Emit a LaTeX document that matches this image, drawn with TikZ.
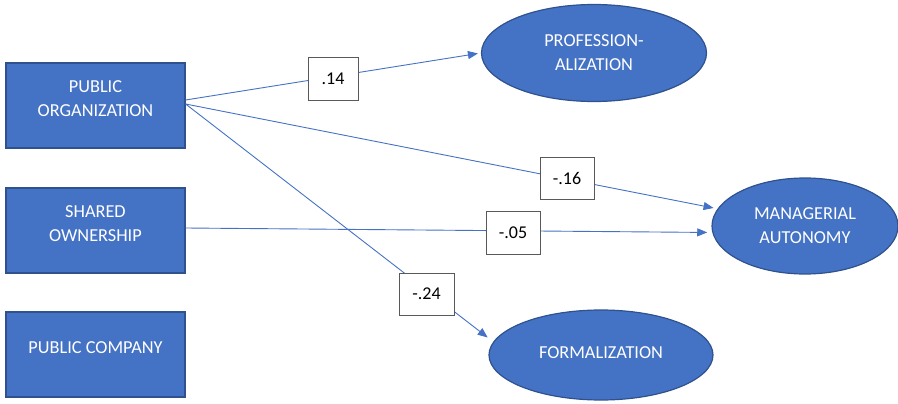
\documentclass[tikz,border=0pt]{standalone}
\usepackage{fontspec}
\setmainfont{Carlito}
\usetikzlibrary{shapes.geometric,arrows.meta}
\definecolor{boxblue}{RGB}{68,114,196}
\definecolor{boxedge}{RGB}{47,82,143}
\definecolor{lblgray}{RGB}{89,89,89}
\newcommand\liftedtext[1]{\raisebox{6pt}[\height][\depth]{\begin{tabular}{@{}c@{}}#1\end{tabular}}}
\begin{document}
\begin{tikzpicture}[x=1pt,y=-1pt,
  varbox/.style={draw=boxedge,line width=1.2pt,fill=boxblue,text=white,
    minimum width=179pt,minimum height=85pt,inner sep=0pt,align=center,
    font=\fontsize{18.3}{24}\selectfont},
  latent/.style={ellipse,draw=boxedge,line width=1.2pt,fill=boxblue,text=white,
    inner sep=0pt,align=center,font=\fontsize{18.3}{24}\selectfont},
  coef/.style={draw=lblgray,line width=0.8pt,fill=white,text=black,inner sep=0pt,
    font=\fontsize{18}{22}\selectfont},
  link/.style={draw=boxblue,line width=0.9pt,-{Triangle[length=10pt,width=8pt]}}]
\useasboundingbox (0,0) rectangle (898,404);

\node[varbox] (pub) at (95.5,105.5) {\liftedtext{PUBLIC\\ORGANIZATION}};
\node[varbox] (sh) at (95.5,230.5) {\liftedtext{SHARED\\OWNERSHIP}};
\node[varbox] (pc) at (95.5,354.5) {\liftedtext{PUBLIC COMPANY}};

\node[latent,minimum width=225pt,minimum height=97pt] (prof) at (594,53) {PROFESSION-\\ALIZATION};
\node[latent,minimum width=186pt,minimum height=96pt] (man) at (805,226) {MANAGERIAL\\AUTONOMY};
\node[latent,minimum width=224pt,minimum height=90pt] (form) at (601,355) {\raisebox{2pt}[\height][\depth]{FORMALIZATION}};

\coordinate (o1) at ([yshift=5.5pt]pub.east);
\coordinate (o2) at ([yshift=1.5pt]pub.east);
\coordinate (o3) at ([yshift=2.5pt]sh.east);

\draw[link,shorten >=3pt] (o1) -- (prof.west);
\draw[link,shorten >=4pt] (o2) -- (man);
\draw[link,shorten >=5pt] (o3) -- (man.184);
\draw[link,shorten >=7pt] (o2) -- (form.173);

\node[coef,minimum width=50pt,minimum height=43pt] (c1) at (333,78.5) {.14};
\node[coef,minimum width=54pt,minimum height=42pt] (c2) at (567,178) {-.16};
\node[coef,minimum width=54pt,minimum height=43pt] (c3) at (513,232.5) {-.05};
\node[coef,minimum width=55pt,minimum height=42pt] (c4) at (426.5,294) {-.24};
\end{tikzpicture}
\end{document}
